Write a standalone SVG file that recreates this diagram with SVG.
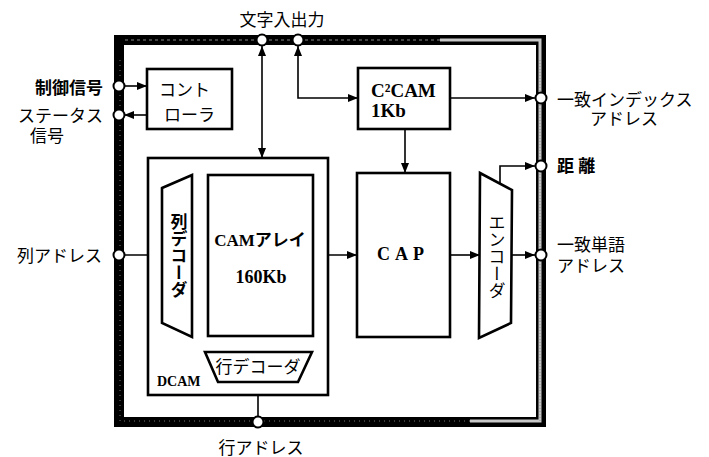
<svg xmlns="http://www.w3.org/2000/svg" width="709" height="457" viewBox="0 0 709 457">
<style>
.box{fill:#fff;stroke:#000;stroke-width:2.6}
.ln{fill:none;stroke:#000;stroke-width:1.6}
.pin{fill:#fff;stroke:#000;stroke-width:2}
.jp{font-family:"Liberation Serif","Noto Sans CJK JP",serif;font-size:17px;fill:#000}
.lat{font-family:"Liberation Serif","Noto Sans CJK JP",serif;font-weight:bold;fill:#000}
</style>
<defs>
<marker id="ah" viewBox="0 0 10 8" refX="10" refY="4" markerWidth="10" markerHeight="8" markerUnits="userSpaceOnUse" orient="auto-start-reverse">
<path d="M0,0 L10,4 L0,8 Z" fill="#000"/>
</marker>
</defs>
<rect width="709" height="457" fill="#fff"/>

<g id="frame">
<rect x="119" y="40" width="422" height="382" fill="none" stroke="#000" stroke-width="10"/>
<path d="M120,60 V421 H540" fill="none" stroke="#777" stroke-width="1" stroke-dasharray="1 4"/>
<path d="M125,40 H540" fill="none" stroke="#888" stroke-width="1.2" stroke-dasharray="3 3"/>
<path d="M440,40 H540 V421 H470" fill="none" stroke="#c8c8c8" stroke-width="3"/>
<path d="M540,60 V421" fill="none" stroke="#999" stroke-width="1" stroke-dasharray="1 2"/>
</g>

<g id="connectors">
<line class="ln" x1="124" y1="86" x2="147" y2="86" marker-end="url(#ah)"/>
<line class="ln" x1="147" y1="115" x2="124" y2="115" marker-end="url(#ah)"/>
<line class="ln" x1="262" y1="46" x2="262" y2="158" marker-start="url(#ah)" marker-end="url(#ah)"/>
<polyline class="ln" points="298,46 298,98 358,98" marker-start="url(#ah)" marker-end="url(#ah)"/>
<line class="ln" x1="450" y1="98" x2="535" y2="98" marker-end="url(#ah)"/>
<line class="ln" x1="405" y1="129" x2="405" y2="173" marker-end="url(#ah)"/>
<line class="ln" x1="124" y1="255" x2="162" y2="255" marker-end="url(#ah)"/>
<line class="ln" x1="192" y1="255" x2="208" y2="255" marker-end="url(#ah)"/>
<line class="ln" x1="313" y1="255" x2="357" y2="255" marker-end="url(#ah)"/>
<line class="ln" x1="450" y1="255" x2="480" y2="255" marker-end="url(#ah)"/>
<line class="ln" x1="511" y1="255" x2="535" y2="255" marker-end="url(#ah)"/>
<polyline class="ln" points="500,184 500,166 535,166" marker-end="url(#ah)"/>
<line class="ln" x1="258" y1="416" x2="258" y2="382" marker-end="url(#ah)"/>
<line class="ln" x1="258" y1="352" x2="258" y2="336" marker-end="url(#ah)"/>
</g>

<g id="pins">
<circle class="pin" cx="262" cy="40" r="5.5"/>
<circle class="pin" cx="298" cy="40" r="5.5"/>
<circle class="pin" cx="119" cy="86" r="5.5"/>
<circle class="pin" cx="119" cy="115" r="5.5"/>
<circle class="pin" cx="119" cy="255" r="5.5"/>
<circle class="pin" cx="541" cy="98" r="5.5"/>
<circle class="pin" cx="541" cy="166" r="5.5"/>
<circle class="pin" cx="541" cy="255" r="5.5"/>
<circle class="pin" cx="258" cy="422" r="5.5"/>
</g>

<g id="controller">
<rect class="box" x="147" y="69" width="85" height="60"/>
<text class="jp" x="159" y="96">コント</text>
<text class="jp" x="164" y="121">ローラ</text>
</g>

<g id="dcam">
<rect class="box" x="148" y="158" width="180" height="237"/>
<text class="lat" x="157" y="386" font-size="14">DCAM</text>
</g>

<g id="col-decoder">
<polygon class="box" points="162,188 192,175 192,337 162,323"/>
<text class="jp" x="177" y="256" text-anchor="middle" style="writing-mode:vertical-rl;font-weight:bold" font-size="17">列デコーダ</text>
</g>

<g id="cam-array">
<rect class="box" x="208" y="175" width="105" height="161"/>
<text class="lat" x="260" y="246" font-size="17" text-anchor="middle">CAMアレイ</text>
<text class="lat" x="261" y="283" font-size="18" text-anchor="middle">160Kb</text>
</g>

<g id="row-decoder">
<polygon class="box" points="205,352 312,352 298,382 218,382"/>
<text class="jp" x="258" y="373" font-size="14" text-anchor="middle">行デコーダ</text>
</g>

<g id="c2cam">
<rect class="box" x="358" y="68" width="92" height="61"/>
<text class="lat" x="371" y="97" font-size="19" font-weight="normal">C²CAM</text>
<text class="lat" x="371" y="117" font-size="19" font-weight="normal">1Kb</text>
</g>

<g id="cap">
<rect class="box" x="357" y="173" width="93" height="164"/>
<text class="lat" x="403" y="260" font-size="18" text-anchor="middle" letter-spacing="5">CAP</text>
</g>

<g id="encoder">
<polygon class="box" points="480,173 512,190 511,323 479,338"/>
<text class="jp" x="495" y="257" text-anchor="middle" style="writing-mode:vertical-rl" font-size="17">エンコーダ</text>
</g>

<g id="labels">
<text class="jp" x="282" y="26" text-anchor="middle">文字入出力</text>
<text class="jp" x="103" y="94" text-anchor="end" font-weight="bold">制御信号</text>
<text class="jp" x="103" y="122" text-anchor="end">ステータス</text>
<text class="jp" x="30" y="142">信号</text>
<text class="jp" x="102" y="262" text-anchor="end">列アドレス</text>
<text class="jp" x="261" y="454" text-anchor="middle">行アドレス</text>
<text class="jp" x="557" y="106">一致インデックス</text>
<text class="jp" x="590" y="125">アドレス</text>
<text class="jp" x="557" y="172" font-weight="bold">距 離</text>
<text class="jp" x="557" y="251">一致単語</text>
<text class="jp" x="557" y="272">アドレス</text>
</g>
</svg>
